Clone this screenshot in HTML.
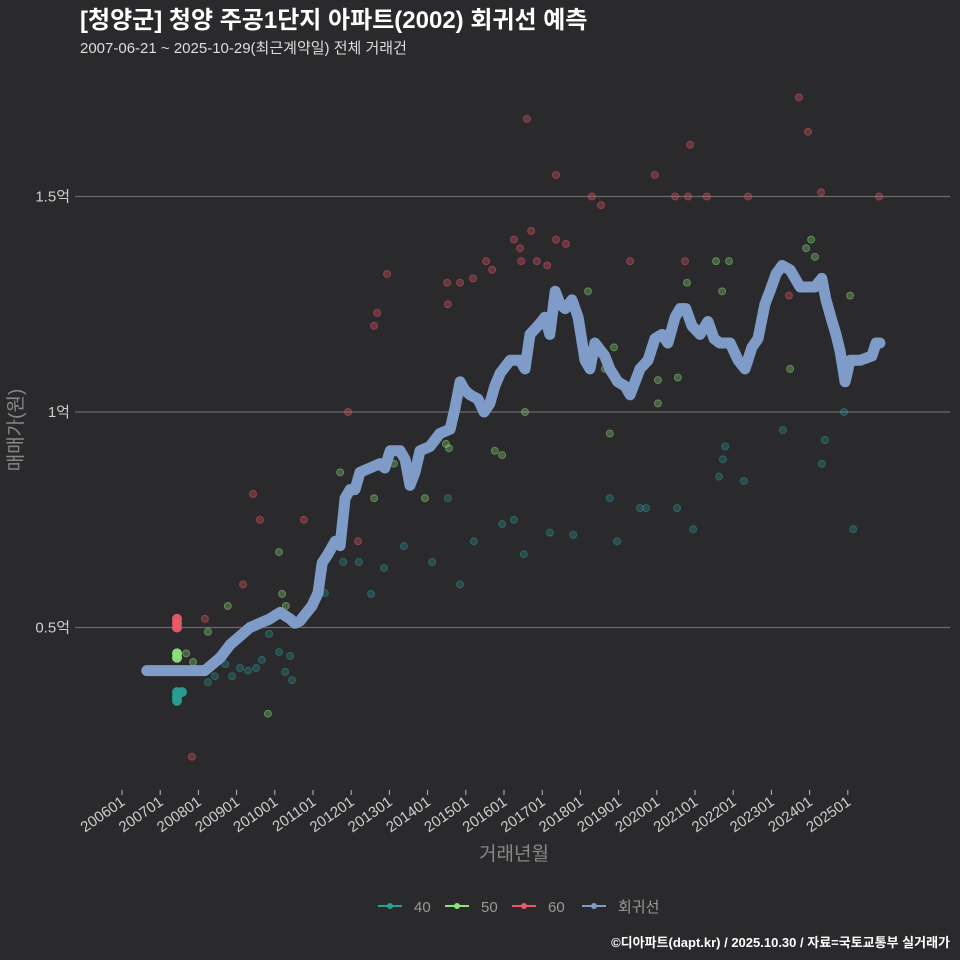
<!DOCTYPE html>
<html><head><meta charset="utf-8"><style>
body{margin:0;background:#2a292b;}
svg{display:block;font-family:"Liberation Sans","Noto Sans CJK KR",sans-serif;}
</style></head><body>
<svg id="chart" width="960" height="960">
<rect width="960" height="960" fill="#2a292b"/>
<text x="80" y="28" fill="#ffffff" font-size="24" font-weight="bold">[청양군] 청양 주공1단지 아파트(2002) 회귀선 예측</text>
<text x="80" y="53" fill="#dddddd" font-size="15">2007-06-21 ~ 2025-10-29(최근계약일) 전체 거래건</text>
<g id="grid"></g><g id="pts"></g><g id="line"></g><g id="axes"></g>
<text transform="translate(22,430) rotate(-90)" text-anchor="middle" fill="#888" font-size="19">매매가(원)</text>
<text x="514" y="860" text-anchor="middle" fill="#888" font-size="19">거래년월</text>
<g id="legend"></g>
<text x="950" y="947" text-anchor="end" fill="#fff" font-size="13" font-weight="bold">©디아파트(dapt.kr) / 2025.10.30 / 자료=국토교통부 실거래가</text>
</svg>
<script>
const yTicks=[0.5,1,1.5];
const yTickLabels=["0.5억","1억","1.5억"];
const xTickYears=[2006,2007,2008,2009,2010,2011,2012,2013,2014,2015,2016,2017,2018,2019,2020,2021,2022,2023,2024,2025];
const regYears=[2006.65,2008.17,2008.30,2008.57,2008.83,2009.09,2009.35,2009.61,2009.87,2010.14,2010.40,2010.53,2010.66,2010.79,2010.97,2011.13,2011.24,2011.39,2011.58,2011.71,2011.84,2011.97,2012.10,2012.23,2012.49,2012.75,2012.88,2013.02,2013.28,2013.41,2013.54,2013.67,2013.80,2014.06,2014.32,2014.59,2014.72,2014.85,2014.98,2015.11,2015.32,2015.48,2015.63,2015.76,2015.90,2016.16,2016.42,2016.55,2016.68,2016.89,2017.07,2017.20,2017.34,2017.47,2017.60,2017.78,2017.94,2018.12,2018.25,2018.38,2018.64,2018.77,2018.98,2019.17,2019.30,2019.56,2019.77,2019.95,2020.14,2020.29,2020.48,2020.61,2020.76,2020.92,2021.13,2021.34,2021.50,2021.65,2021.92,2022.13,2022.31,2022.49,2022.65,2022.83,2022.96,2023.12,2023.28,2023.49,2023.75,2024.14,2024.32,2024.43,2024.59,2024.69,2024.80,2024.93,2025.06,2025.32,2025.63,2025.74,2025.84];
const regValues=[0.40,0.40,0.41,0.43,0.46,0.48,0.50,0.51,0.52,0.535,0.52,0.51,0.515,0.53,0.55,0.58,0.65,0.67,0.70,0.69,0.80,0.82,0.82,0.86,0.87,0.88,0.87,0.91,0.91,0.89,0.83,0.86,0.91,0.92,0.95,0.96,1.01,1.07,1.05,1.04,1.03,1.00,1.02,1.06,1.09,1.12,1.12,1.10,1.18,1.20,1.22,1.18,1.28,1.25,1.24,1.26,1.22,1.12,1.10,1.16,1.13,1.10,1.07,1.06,1.04,1.10,1.12,1.17,1.18,1.16,1.22,1.24,1.24,1.20,1.18,1.21,1.17,1.16,1.16,1.12,1.10,1.15,1.17,1.25,1.28,1.32,1.34,1.33,1.29,1.29,1.31,1.26,1.21,1.18,1.14,1.07,1.12,1.12,1.13,1.16,1.16];
const t40Years=[2007.44,2007.44,2007.44,2007.57,2008.25,2008.43,2008.70,2008.88,2009.09,2009.30,2009.51,2009.66,2009.85,2010.11,2010.27,2010.40,2010.45,2011.31,2011.79,2012.20,2012.52,2012.86,2013.38,2014.12,2014.53,2014.85,2015.21,2015.95,2016.26,2016.52,2017.20,2017.81,2018.77,2018.96,2019.56,2019.72,2020.53,2020.95,2021.63,2021.73,2021.79,2022.28,2023.30,2024.32,2024.40,2024.90,2025.14];
const t40Values=[0.33,0.34,0.35,0.35,0.373,0.387,0.415,0.387,0.406,0.40,0.406,0.425,0.485,0.443,0.397,0.434,0.378,0.58,0.652,0.652,0.578,0.638,0.689,0.652,0.80,0.60,0.70,0.74,0.75,0.67,0.72,0.715,0.80,0.70,0.777,0.777,0.777,0.728,0.85,0.89,0.92,0.84,0.958,0.88,0.935,1.0,0.728];
const t50Years=[2007.44,2007.44,2007.68,2007.86,2008.25,2008.77,2008.98,2009.82,2010.11,2010.19,2010.29,2011.71,2012.60,2013.12,2013.93,2014.48,2014.56,2015.76,2015.95,2016.55,2018.20,2018.64,2018.77,2018.88,2020.03,2020.03,2020.55,2020.79,2021.55,2021.71,2021.89,2023.49,2023.72,2023.91,2024.04,2024.14,2025.06];
const t50Values=[0.43,0.44,0.44,0.42,0.49,0.55,0.47,0.30,0.675,0.578,0.55,0.86,0.80,0.88,0.80,0.926,0.916,0.91,0.90,1.0,1.28,1.10,0.95,1.15,1.074,1.02,1.08,1.30,1.35,1.28,1.35,1.10,1.30,1.38,1.40,1.36,1.27];
const t60Years=[2007.44,2007.44,2007.44,2008.17,2007.83,2009.17,2009.43,2009.61,2010.76,2011.92,2012.18,2012.60,2012.68,2012.94,2014.51,2014.53,2014.85,2015.19,2015.53,2015.69,2016.26,2016.42,2016.45,2016.60,2016.71,2016.86,2017.13,2017.36,2017.36,2017.62,2018.30,2018.54,2019.30,2019.95,2020.48,2020.74,2020.82,2020.87,2021.31,2022.39,2023.46,2023.72,2023.96,2024.30,2025.82];
const t60Values=[0.50,0.51,0.52,0.52,0.20,0.60,0.81,0.75,0.75,1.00,0.70,1.20,1.23,1.32,1.30,1.25,1.30,1.31,1.35,1.33,1.40,1.38,1.35,1.68,1.42,1.35,1.34,1.55,1.40,1.39,1.50,1.48,1.35,1.55,1.50,1.35,1.50,1.62,1.50,1.50,1.27,1.73,1.65,1.51,1.50];
const legendLabels=["40","50","60","회귀선"];
const legendColors=["#2a9d96","#8de27a","#ea5a68","#7f9cc8"];

const NS="http://www.w3.org/2000/svg";
const X=y=>122+(y-2006)*38.2;
const Y=v=>412-(v-1)*431;
function mk(tag,attrs,parent){const e=document.createElementNS(NS,tag);for(const k in attrs)e.setAttribute(k,attrs[k]);parent.appendChild(e);return e;}
const grid=document.getElementById('grid'),axes=document.getElementById('axes');
yTicks.forEach((t,i)=>{
  const l=mk('line',{x1:75,x2:950,y1:Y(t),y2:Y(t),stroke:'#6a6a6a','stroke-width':1.2},grid);
  
  
  const tx=mk('text',{x:70,y:Y(t)+5,'text-anchor':'end',fill:'#cfcfcf','font-size':15},axes);
  tx.textContent=yTickLabels[i];
  
  
});
xTickYears.forEach(yr=>{
  const x=X(yr);
  const tk=mk('line',{x1:x,x2:x,y1:790,y2:795,stroke:'#bbb'},axes);
  
  
  const tx=mk('text',{transform:`translate(${x+4},${804}) rotate(-35)`,'text-anchor':'end',fill:'#cfcfcf','font-size':15},axes);
  tx.textContent=yr+"01";
  
  
});
const pts=document.getElementById('pts');
[[t40Years,t40Values,0],[t50Years,t50Values,1],[t60Years,t60Values,2]].forEach(([ys,vs,ci])=>{
  ys.forEach((yr,i)=>{
    const bright=yr<2007.6;
    const c=mk('circle',{cx:X(yr),cy:Y(vs[i]),r:bright?4.5:3.5,fill:legendColors[ci],'fill-opacity':bright?0.95:0.3,stroke:legendColors[ci],'stroke-opacity':bright?1:0.45},pts);
    
    
  });
});
const d=regYears.map((yr,i)=>(i?'L':'M')+X(yr).toFixed(1)+','+Y(regValues[i]).toFixed(1)).join('');
const p=mk('path',{d:d,fill:'none',stroke:'#7f9cc8','stroke-width':11,'stroke-linecap':'round','stroke-linejoin':'round'},document.getElementById('line'));


const lg=document.getElementById('legend');
const lx=[378,445,512,582];
legendLabels.forEach((lab,i)=>{
  const g=mk('g',{},lg);
  
  
  mk('line',{x1:lx[i],x2:lx[i]+24,y1:906,y2:906,stroke:legendColors[i],'stroke-width':2},g);
  mk('circle',{cx:lx[i]+12,cy:906,r:3,fill:legendColors[i]},g);
  const t=mk('text',{x:lx[i]+36,y:912,fill:'#999','font-size':15},g);
  t.textContent=lab;
});
</script>
</body></html>
